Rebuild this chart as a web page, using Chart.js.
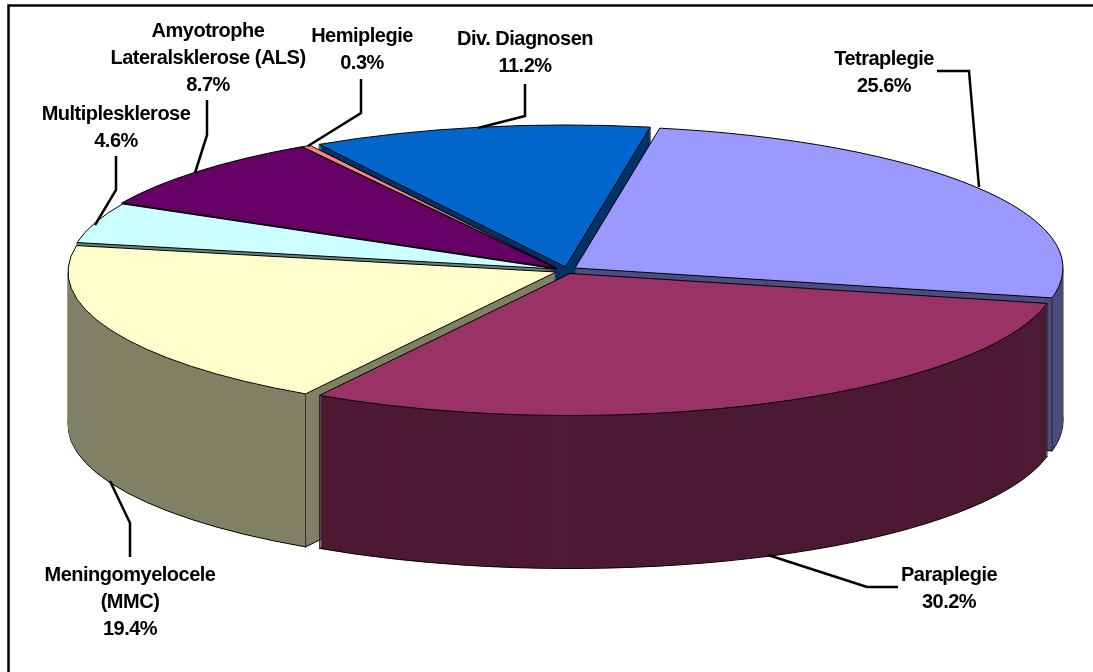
<!DOCTYPE html>
<html>
<head>
<meta charset="utf-8">
<style>
  html, body { margin: 0; padding: 0; background: #fff; overflow: hidden; }
  #wrap { position: relative; width: 1093px; height: 672px; }
</style>
</head>
<body>
<div id="wrap"><canvas id="pie" width="1093" height="672"></canvas></div>
<script src="https://cdn.jsdelivr.net/npm/chart.js@4"></script>
<script>
const categories = ["Tetraplegie", "Paraplegie", "Meningomyelocele (MMC)", "Multiplesklerose", "Amyotrophe Lateralsklerose (ALS)", "Hemiplegie", "Div. Diagnosen"];
const shares = [25.6, 30.2, 19.4, 4.6, 8.7, 0.3, 11.2];
const topColors = ["#9999FF", "#993366", "#FFFFCC", "#CCFFFF", "#660066", "#FF8080", "#0066CC"];
const sideColors = ["#4D4D80", "#4D1A33", "#808066", "#668080", "#330033", "#804040", "#003366"];

// how the label text wraps, one entry per slice
const labelLines = [["Tetraplegie"], ["Paraplegie"], ["Meningomyelocele", "(MMC)"], ["Multiplesklerose"], ["Amyotrophe", "Lateralsklerose (ALS)"], ["Hemiplegie"], ["Div. Diagnosen"]];
const labelPos = [[884, 59], [949, 575], [130, 575], [116, 114], [208, 31], [362, 36], [525, 39]];
const leaders = [
    [[937, 71], [969, 71], [979, 187]],
    [[768, 555], [867, 587], [898, 587]],
    [[110, 481], [130, 523], [130, 557]],
    [[116, 156], [116, 190], [95, 225]],
    [[207, 100], [207, 135], [195, 173]],
    [[361, 79], [361, 113], [308, 146]],
    [[525, 84], [525, 116], [478, 128]]
];

// pie look
const squash = 0.291;
const depth = 153;
const pullOut = [[9.5, 0], [4.5, 5.5], [-9.5, 4], [-9, 1], [-10, 0], [-9, 0], [0, -1]];

function placeSlice(ctx, arc, i, lift) {
    ctx.translate(arc.x + pullOut[i][0], arc.y + pullOut[i][1] + lift);
    ctx.scale(1, squash);
    ctx.translate(-arc.x, -arc.y);
}

function sliceOutline(ctx, arc, i, lift) {
    ctx.save();
    ctx.beginPath();
    placeSlice(ctx, arc, i, lift);
    ctx.moveTo(arc.x, arc.y);
    ctx.arc(arc.x, arc.y, arc.outerRadius, arc.startAngle, arc.endAngle);
    ctx.closePath();
    ctx.restore();
    ctx.stroke();
}

function drawFill(ctx, arc, i, color, lift) {
    const keep = arc.options;
    arc.options = Object.assign({}, keep, { backgroundColor: color, borderWidth: 0, borderColor: color });
    ctx.save();
    placeSlice(ctx, arc, i, lift);
    arc.draw(ctx);
    ctx.restore();
    arc.options = keep;
}

// wall edges: the two cut corners plus the left/right silhouette of the pie
function edgeAngles(arc) {
    const list = [arc.startAngle, arc.endAngle];
    [0, Math.PI].forEach(a => {
        if (a > arc.startAngle && a < arc.endAngle) list.push(a);
    });
    return list;
}

const pie3d = {
    id: "pie3d",
    beforeDatasetsDraw(chart) {
        const ctx = chart.ctx;
        const arcs = chart.getDatasetMeta(0).data;
        ctx.strokeStyle = "#000";
        ctx.lineWidth = 1;

        // walls: stack the slice shape from the floor upwards
        for (let lift = depth; lift > 0; lift--) {
            arcs.forEach((arc, i) => drawFill(ctx, arc, i, sideColors[i], lift));
            ctx.fillStyle = "#222";
            arcs.forEach((arc, i) => {
                edgeAngles(arc).forEach(a => {
                    const px = arc.x + pullOut[i][0] + Math.cos(a) * arc.outerRadius;
                    const py = arc.y + pullOut[i][1] + lift + Math.sin(a) * arc.outerRadius * squash;
                    ctx.fillRect(px - 0.5, py - 0.5, 1, 1);
                });
            });
            if (lift === depth) {
                arcs.forEach((arc, i) => sliceOutline(ctx, arc, i, lift));
            }
        }

        // top faces, back to front
        arcs.forEach((arc, i) => {
            drawFill(ctx, arc, i, topColors[i], 0);
            sliceOutline(ctx, arc, i, 0);
        });
        return false;
    },
    afterDraw(chart) {
        const ctx = chart.ctx;
        ctx.save();
        ctx.strokeStyle = "#000";
        ctx.lineWidth = 2.5;
        ctx.lineJoin = "miter";
        leaders.forEach(pts => {
            ctx.beginPath();
            pts.forEach((p, k) => k ? ctx.lineTo(p[0], p[1]) : ctx.moveTo(p[0], p[1]));
            ctx.stroke();
        });

        ctx.fillStyle = "#000";
        ctx.font = "bold 20px 'Liberation Sans'";
        ctx.letterSpacing = "-0.5px";
        ctx.textAlign = "center";
        ctx.textBaseline = "middle";
        categories.forEach((name, i) => {
            const lines = labelLines[i].concat(shares[i].toFixed(1) + "%");
            lines.forEach((t, k) => ctx.fillText(t, labelPos[i][0], labelPos[i][1] + k * 27));
        });

        // chart frame: only its top and left edges fall inside the picture
        ctx.lineWidth = 2.5;
        ctx.strokeStyle = "#000";
        ctx.strokeRect(8.5, 5.5, 1200, 800);
        ctx.restore();
    }
};

new Chart(document.getElementById("pie"), {
    type: "pie",
    data: {
        labels: categories,
        datasets: [{ data: shares, backgroundColor: topColors, borderWidth: 0 }]
    },
    options: {
        responsive: false,
        animation: false,
        rotation: 10,
        radius: 488,
        layout: { padding: { left: 38, bottom: 136 } },
        plugins: { legend: { display: false }, tooltip: { enabled: false } }
    },
    plugins: [pie3d]
});
</script>
</body>
</html>
